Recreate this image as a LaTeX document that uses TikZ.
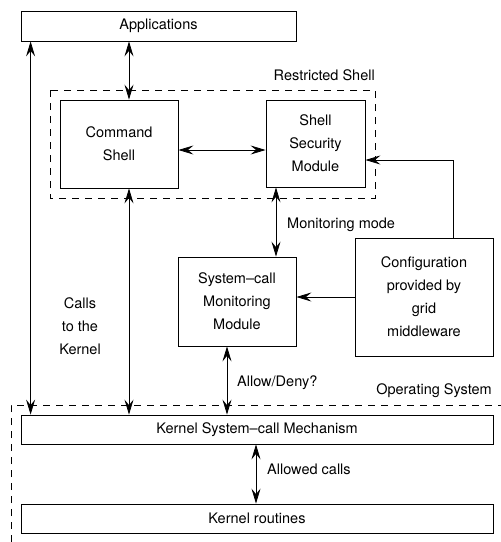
\documentclass[tikz,border=0pt]{standalone}
\usepackage{fontspec}
\setmainfont{TeX Gyre Heros}
\usetikzlibrary{arrows.meta}
\tikzset{
  box/.style={draw, line width=0.8pt, inner sep=0pt, align=center},
  lbl/.style={inner sep=0pt, align=center},
  tip/.tip={Stealth[length=15pt,width=9pt,inset=5.5pt]},
  uni/.style={line width=0.8pt, -tip},
  dbl/.style={line width=0.8pt, tip-tip},
  dsh/.style={line width=0.8pt, dash pattern=on 7pt off 6pt}
}
\begin{document}
\begin{tikzpicture}[x=1pt, y=-1pt, font=\fontsize{14.5}{23}\selectfont]
\useasboundingbox (0,0) rectangle (501,542);
% dashed frames
\draw[dsh] (50,90) rectangle (375,198);
\draw[dsh] (11,542) -- (11,405) -- (501,405);
% boxes
\node[box, minimum width=275pt, minimum height=30pt] (app) at (158.5,26) {Applications};
\node[box, minimum width=118pt, minimum height=88pt] (cmd) at (119,144) {Command\\Shell};
\node[box, minimum width=99pt, minimum height=87pt] (ssm) at (315.5,143.5) {Shell\\Security\\Module};
\node[box, minimum width=118pt, minimum height=89pt] (scm) at (237,301.5) {System--call\\Monitoring\\Module};
\node[box, minimum width=138pt, minimum height=118pt] (cfg) at (424,297) {Configuration\\provided by\\grid\\middleware};
\node[box, minimum width=472pt, minimum height=29pt] (ksc) at (257,429.5) {Kernel System--call Mechanism};
\node[box, minimum width=472pt, minimum height=29pt] (kr) at (257,518.5) {Kernel routines};
% labels
\node[lbl, anchor=base east] (lrs) at (375,80) {Restricted Shell};
\node[lbl, anchor=base east] (los) at (492,394) {Operating System};
\node[lbl, anchor=base west] (lmm) at (287,228) {Monitoring mode};
\node[lbl, anchor=base west] (lad) at (237,386) {Allow/Deny?};
\node[lbl, anchor=base west] (lac) at (267,474) {Allowed calls};
\node[lbl] (lck) at (80,326) {Calls\\to the\\Kernel};
% connectors
\draw[dbl] ([xshift=10pt]app.south west) -- ([xshift=10pt]ksc.north west);
\draw[dbl] ([xshift=10pt]cmd.north) -- ([xshift=10pt]cmd.north |- app.south);
\draw[dbl] ([xshift=10pt]cmd.south) -- ([xshift=10pt]cmd.south |- ksc.north);
\draw[dbl] ([yshift=-6pt]cmd.east) -- ([yshift=-6pt]cmd.east -| ssm.west);
\draw[dbl] ([xshift=-39.5pt]ssm.south) -- ([xshift=-39.5pt]ssm.south |- scm.north);
\draw[uni] (cfg.west) -- (cfg.west -| scm.east);
\draw[uni] ([xshift=29pt]cfg.north) |- ([yshift=-16.5pt]ssm.east);
\draw[dbl] ([xshift=-10pt]scm.south) -- ([xshift=-10pt]scm.south |- ksc.north);
\draw[dbl] ([xshift=-1pt]ksc.south) -- ([xshift=-1pt]kr.north);
\end{tikzpicture}
\end{document}
